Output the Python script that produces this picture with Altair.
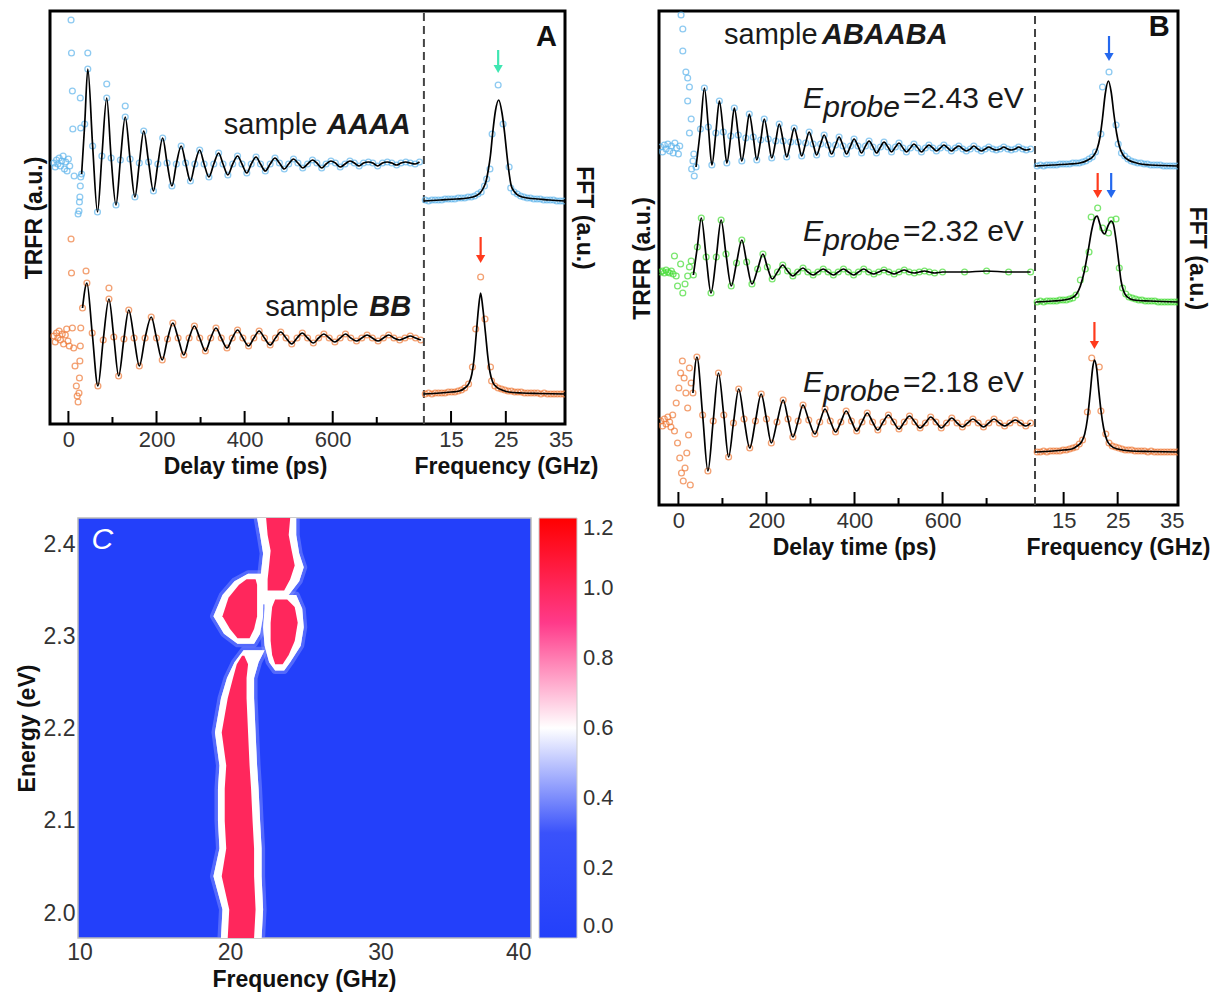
import altair as alt
import pandas as pd

FONT = "Liberation Sans"

# ---------------- shared tick lists ----------------
time_major = [0, 200, 400, 600]
time_minor = [100, 300, 500, 700]
fft_labels = [15, 25, 35]
fft_marks = [15, 25]

# ---------------- Panel A data (delay ps / GHz, signal in a.u.) ----------------
A_blue_signal = [(30,-10),(37,40),(44,95),(55,18),(66,-48),(76,8),(87,66),(97,6),(108,-41),(118,4),(129,47),(140,5),
    (151,-33),(161,1),(171,33),(182,2),(193,-27),(203,0),(214,26),(224,1),(235,-22),(245,0),(256,18),(266,1),(277,-17),
    (287,0),(298,14),(308,0),(319,-13),(330,0),(341,11),(351,0),(362,-11),(373,0),(384,8),(394,0),(405,-9),(415,0),
    (426,7),(436,0),(447,-7),(458,0),(469,6),(479,1),(490,-5),(500,0),(511,5),(521,1),(532,-4),(543,0),(554,4),(564,1),
    (575,-4),(585,0),(596,3),(606,1),(617,-3),(628,0),(639,3),(649,1),(660,-2),(670,1),(681,2),(691,1),(702,-2),(713,1),
    (724,2),(734,1),(745,-1),(755,1),(766,2),(776,1),(787,0),(797,2)]
A_blue_noise = [(-33,1),(-30,-3),(-27,4),(-24,0),(-21,6),(-18,-2),(-15,3),(-12,8),(-9,-5),(-6,2),(-3,-7),(0,5),(3,-2),
    (6,144),(7,111),(9,73),(10,35),(13,-12),(22,-50),(24,-47),(25,-38),(26,-33),(27,-22),(28,-13),(27,66),(28,36),
    (44,111),(87,80),(129,58)]
A_orange_signal = [(32,30),(42,55),(54,5),(67,-48),(79,-2),(92,39),(103,1),(114,-38),(126,-1),(137,28),(149,0),(161,-28),
    (174,0),(188,21),(200,0),(213,-22),(225,-1),(237,15),(249,0),(262,-17),(274,0),(286,12),(298,0),(311,-13),(323,0),
    (335,10),(347,0),(360,-10),(372,0),(384,8),(396,0),(409,-8),(421,0),(433,7),(445,0),(458,-7),(470,0),(482,6),(494,0),
    (507,-6),(519,0),(531,5),(543,0),(556,-5),(568,0),(580,4),(592,0),(605,-4),(617,0),(629,4),(641,0),(654,-3),(666,0),
    (678,3),(690,0),(703,-3),(715,0),(727,3),(739,0),(752,-2),(764,0),(776,2),(788,0),(800,-2)]
A_orange_noise = [(-33,2),(-30,-4),(-27,5),(-24,0),(-21,7),(-18,-2),(-14,4),(-11,-6),(-7,3),(-4,9),(-1,-3),(2,-8),
    (6,99),(7,65),(9,10),(12,-10),(15,-28),(18,-48),(20,-58),(22,-64),(24,-55),(25,-40),(26,-23),(27,-8),(28,10),
    (40,67),(92,50)]
A_blue_fft_fit = [(10,0),(13,1),(16,2),(18,3),(19.5,5),(20.3,8),(20.9,13),(21.4,20),(21.8,31),(22.2,46),(22.6,68),
    (23.1,90),(23.7,101),(24.3,88),(24.8,67),(25.2,46),(25.5,32),(26.0,15),(26.6,9),(27.5,5),(29,3),(31,2),(33,1),(35.8,0)]
A_blue_fft_pts = [(10.3,1),(10.9,0),(11.5,1),(12.1,1),(12.7,1),(13.3,1),(13.9,2),(14.5,2),(15.1,2),(15.7,2),(16.3,3),
    (16.9,3),(17.5,3),(18.1,4),(18.7,4),(19.3,5),(19.9,7),(20.5,9),(21.1,15),(21.5,22),(22.1,32),(22.5,67),(23.6,116),
    (24.5,77),(25.6,34),(25.9,13),(26.5,9),(27.1,7),(27.7,5),(28.3,4),(28.9,3),(29.5,3),(30.1,2),(30.7,2),(31.3,2),
    (31.9,1),(32.5,1),(33.1,1),(33.7,1),(34.3,0),(34.9,0),(35.5,0)]
A_orange_fft_fit = [(10,0),(13,1),(15,2),(16.5,3),(17.5,6),(18.3,11),(18.8,20),(19.2,35),(19.6,60),(20,85),(20.4,101),
    (20.8,86),(21.3,60),(21.7,38),(22.1,22),(22.6,12),(23.3,7),(24.3,4),(25.5,2),(28,1),(31,0.5),(35.8,0)]
A_orange_fft_pts = [(10.3,0),(10.9,1),(11.5,0),(12.1,1),(12.7,1),(13.3,1),(13.9,1),(14.5,2),(15.1,2),(15.7,2),(16.3,3),
    (16.9,4),(17.5,6),(18.2,10),(18.9,27),(19.5,65),(20.4,117),(21.2,75),(22.2,27),(22.4,13),(23.0,8),(23.6,6),(24.2,5),
    (24.8,4),(25.4,3),(26,3),(26.6,2),(27.2,2),(27.8,2),(28.4,1),(29,1),(29.6,1),(30.2,1),(30.8,1),(31.4,0),(32,1),
    (32.6,0),(33.2,0),(33.8,0),(34.4,0),(35,0),(35.6,0)]
A_time_offset = {"blue": 260, "orange": 86}
A_fft_offset = {"blue": 223, "orange": 30}
A_arrows = [("cyan", 23.6, 374, 351), ("red", 20.4, 187, 161)]

# ---------------- Panel B data ----------------
B_blue_signal = [(40,-18),(50,20),
    (59,61),(68,22),(76,-16),(85,16),(93,48),(102,17),(110,-14),(119,13),(127,41),(136,14),(144,-12),(153,11),
    (161,35),(170,12),(178,-11),(187,9),(195,30),(204,10),(212,-9),(221,8),(229,25),(238,8),(246,-8),(255,7),
    (263,21),(272,7),(280,-7),(289,6),(297,17),(306,5),(314,-6),(323,5),(331,14),(340,4),(348,-5),(357,4),
    (365,12),(374,3),(382,-5),(391,3),(399,10),(408,3),(416,-4),(425,3),(433,8),(442,2),(450,-4),(459,2),
    (467,7),(476,2),(484,-3),(493,2),(501,6),(510,1),(518,-3),(527,1),(535,5),(544,1),(552,-3),(561,1),
    (569,4),(578,1),(586,-2),(595,1),(603,4),(612,1),(620,-2),(629,1),(637,3),(646,0),(654,-2),(663,0),
    (671,3),(680,0),(688,-2),(697,0),(705,2),(714,0),(722,-1),(731,0),(739,2),(748,0),(756,-1),(765,0),
    (773,2),(782,0),(790,-1),(800,0)]
B_blue_noise = [(-40,2),(-36,-3),(-32,4),(-28,0),(-24,5),(-20,-2),(-16,3),(-12,-4),(-8,6),(-4,1),(0,-5),(3,3),(6,134),
    (10,120),(10,98),(17,77),(21,71),(25,62),(21,48),(29,30),(25,16),(33,-12),(36,-27),(30,-20),(35,-5)]
B_green_signal = [(34,-3),(43,25),(52,54),(63,15),(74,-21),(86,15),(97,52),(108,18),(120,-14),(132,9),(144,32),(155,10),
    (167,-12),(180,3),(192,18),(202,5),(213,-7),(225,0),(237,7),(248,1),(260,-4),(271,0),(283,4),(294,0),(306,-3),
    (317,0),(329,3),(340,0),(352,-3),(363,0),(375,3),(386,0),(398,-3),(409,0),(421,3),(432,0),(444,-2),(455,0),(467,2),
    (478,0),(490,-2),(501,0),(513,2),(524,0),(536,-1),(547,0),(559,1),(570,0),(582,-1),(600,0),(650,0),(700,1),(750,0),
    (800,0)]
B_green_noise = [(-40,0),(-36,1),(-32,-1),(-28,2),(-24,0),(-20,-1),(-16,1),(-12,-2),(-9,16),(-5,-4),(-2,-14),(5,8),
    (10,-21),(15,-12),(21,-4),(25,5),(29,11)]
B_orange_signal = [(33,30),(42,66),(55,8),(67,-48),(79,2),(91,50),(103,8),(114,-34),(125,0),(137,34),(149,4),(162,-25),
    (175,2),(188,29),(200,4),(211,-20),(224,1),(238,23),(249,4),(260,-14),(272,2),(283,18),(296,3),(310,-11),(321,1),
    (333,14),(345,2),(357,-9),(369,1),(381,12),(393,2),(405,-8),(417,1),(429,10),(441,1),(453,-7),(465,1),(477,8),
    (489,1),(501,-6),(513,1),(525,7),(537,1),(549,-5),(561,0),(573,6),(585,1),(597,-5),(609,0),(621,5),(633,0),(645,-4),
    (657,0),(669,4),(681,0),(693,-4),(705,0),(717,4),(729,0),(741,-3),(753,0),(765,3),(777,0),(789,-3),(800,0)]
B_orange_noise = [(-40,2),(-36,-3),(-32,4),(-28,-1),(-24,6),(-20,1),(-17,-4),(-13,8),(-9,-8),(-5,20),(-2,-20),(1,35),
    (3,-35),(5,50),(7,-50),(9,62),(11,-58),(13,45),(15,-45),(17,30),(19,-30),(21,15),(23,-12),(25,55),(27,-62),(29,40)]
B_blue_fft_fit = [(9.8,0),(13,1),(16,2),(18,3),(19.5,6),(20.5,10),(21.2,17),(21.7,28),(22.2,48),(22.7,72),(23.3,85),
    (23.8,74),(24.3,52),(24.8,33),(25.3,20),(26,11),(27,6),(28.5,3),(31,1),(36.2,0)]
B_blue_fft_pts = [(10.1,0),(10.7,1),(11.3,0),(11.9,1),(12.5,1),(13.1,1),(13.7,1),(14.3,2),(14.9,2),(15.5,2),(16.1,2),
    (16.7,3),(17.3,3),(17.9,3),(18.5,4),(19.1,5),(19.7,7),(20.3,9),(20.9,14),(21.9,32),(22.2,79),(23.4,94),(24.7,41),
    (25.1,22),(25.7,13),(26.3,10),(26.9,7),(27.5,5),(28.1,4),(28.7,3),(29.3,3),(29.9,2),(30.5,2),(31.1,1),(31.7,1),
    (32.3,1),(32.9,1),(33.5,0),(34.1,0),(34.7,0),(35.3,0),(35.9,0)]
B_green_fft_fit = [(9.8,0),(13,1),(15,2),(16.5,4),(17.4,8),(18.1,16),(18.8,30),(19.5,50),(20.2,72),(20.8,84),(21.2,86),
    (21.7,78),(22.2,70),(22.6,68),(23.2,76),(23.8,81),(24.2,78),(24.7,62),(25.2,40),(25.6,22),(26.1,11),(26.8,5),(28,2),
    (31,1),(36.2,0)]
B_green_fft_pts = [(10.1,0),(10.7,1),(11.3,0),(11.9,1),(12.5,1),(13.1,1),(13.7,1),(14.3,2),(14.9,2),(15.5,2),(16.1,3),
    (16.7,4),(17.3,7),(18.1,22),(19.0,33),(19.7,50),(20.1,85),(21.3,94),(22.2,74),(23.3,69),(23.8,82),(24.7,83),
    (25.3,34),(25.9,14),(26.5,8),(27.1,5),(27.7,4),(28.3,3),(28.9,2),(29.5,2),(30.1,1),(30.7,1),(31.3,1),(31.9,1),
    (32.5,0),(33.1,0),(33.7,0),(34.3,0),(34.9,0),(35.5,0),(36.1,0)]
B_orange_fft_fit = [(9.8,0),(13,1),(15,2),(16.5,3),(17.5,6),(18.3,10),(18.9,18),(19.4,33),(19.9,58),(20.4,85),(20.7,92),
    (21.1,84),(21.5,62),(21.9,42),(22.4,24),(23,12),(23.8,6),(25,3),(27.5,1),(31,0.5),(36.2,0)]
B_orange_fft_pts = [(10.1,0),(10.7,0),(11.3,1),(11.9,0),(12.5,1),(13.1,1),(13.7,1),(14.3,1),(14.9,2),(15.5,2),(16.1,3),
    (16.7,4),(17.3,5),(17.9,8),(18.5,12),(19.4,40),(20.2,94),(21.6,85),(21.9,41),(22.8,18),(23.4,9),(24,6),(24.6,5),
    (25.2,4),(25.8,3),(26.4,2),(27,2),(27.6,2),(28.2,1),(28.8,1),(29.4,1),(30,1),(30.6,0),(31.2,1),(31.8,0),(32.4,0),
    (33,0),(33.6,0),(34.2,0),(34.8,0),(35.4,0),(36,0)]
B_time_offset = {"blue": 356, "green": 233, "orange": 82}
B_fft_offset = {"blue": 339, "green": 203, "orange": 53}
B_arrows = [("blue", 23.4, 469, 444), ("red", 21.3, 332, 307), ("blue", 23.8, 332, 307), ("red", 20.7, 183, 156)]
B_energies = ["2.43", "2.32", "2.18"]

# ---------------- Panel C data (energy eV, ridge edges in GHz) ----------------
ridge_halo = {
    "low":   [(1.973,19.4,22.1),(2.004,19.5,22.2),(2.04,18.9,22.1),(2.07,19.3,22.1),(2.10,19.2,22.0),(2.135,19.2,21.9),
              (2.16,19.3,21.8),(2.196,19.0,21.7),(2.233,19.4,21.6),(2.255,19.8,21.6),(2.272,20.3,21.9),(2.285,20.9,22.3)],
    "left":  [(2.292,20.5,21.6),(2.303,19.6,22.0),(2.322,18.9,22.2),(2.345,19.5,22.2),(2.36,20.3,22.3),(2.368,21.2,22.4)],
    "right": [(2.263,23.0,23.6),(2.272,22.6,24.0),(2.29,22.3,24.7),(2.31,22.2,24.9),(2.33,22.3,24.8),(2.345,22.3,24.4)],
    "up":    [(2.335,22.0,23.2),(2.345,21.9,23.9),(2.36,22.0,24.6),(2.375,22.1,24.9),(2.39,22.2,24.6),(2.41,22.0,24.4),
              (2.4285,21.8,24.4)],
}
ridge_core = {
    "low":   [(1.973,19.85,21.6),(2.004,19.95,21.7),(2.04,19.45,21.6),(2.07,19.75,21.6),(2.10,19.65,21.5),
              (2.135,19.65,21.4),(2.16,19.75,21.3),(2.196,19.45,21.2),(2.233,19.85,21.1),(2.255,20.2,21.1),
              (2.27,20.45,21.2),(2.279,20.8,20.95)],
    "left":  [(2.298,20.5,21.3),(2.308,20.0,21.6),(2.322,19.5,21.8),(2.342,19.9,21.8),(2.356,20.6,21.8),(2.362,21.1,21.7)],
    "right": [(2.27,23.0,23.5),(2.28,22.8,23.9),(2.295,22.7,24.3),(2.315,22.7,24.5),(2.332,22.8,24.3),(2.34,23.0,23.8)],
    "up":    [(2.35,22.5,23.6),(2.362,22.5,24.0),(2.377,22.6,24.3),(2.393,22.7,24.1),(2.41,22.5,23.9),(2.4285,22.4,24.0)],
}
level_background, level_halo, level_core = 0.0, 0.6, 1.0
colorbar_ticks = [0.0, 0.2, 0.4, 0.6, 0.8, 1.0, 1.2]

# ---------------- styles ----------------
SERIES_DOMAIN = ["blue", "orange", "green"]
SERIES_RANGE = ["#5fb5ec", "#ef7a38", "#45dd35"]
ARROW_DOMAIN = ["cyan", "red", "blue"]
ARROW_RANGE = ["#3fe6b2", "#ff3a1c", "#2468ee"]
ONE = pd.DataFrame({"k": [0]})


def frame(pairs, series, offset, xcol):
    return pd.DataFrame({xcol: [p[0] for p in pairs], "y": [p[1] + offset for p in pairs], "series": series})


def arrows_frame(arrows):
    return pd.DataFrame({"kind": [a[0] for a in arrows], "f": [a[1] for a in arrows],
                         "top": [a[2] for a in arrows], "head": [a[3] + 4 for a in arrows]})


def panel(W, H, t_dom, f_dom, t_div, tpts, tfit, fpts, ffit, arrows, t_notes, f_notes, t_title_x, f_title_x, ytp):
    ysc = alt.Scale(domain=[0, H], nice=False, zero=False)
    tsc = alt.Scale(domain=t_dom, nice=False, zero=False)
    fsc = alt.Scale(domain=f_dom, nice=False, zero=False)
    t_axis = alt.Axis(orient="bottom", values=time_major, ticks=False, domain=False, grid=False, labelPadding=5,
                      title="Delay time (ps)", titleX=t_title_x, titlePadding=5)
    f_axis = alt.Axis(orient="bottom", values=fft_labels, ticks=False, domain=False, grid=False, labelPadding=5,
                      title="Frequency (GHz)", titleX=f_title_x, titlePadding=5)
    yl = alt.Axis(orient="left", labels=False, ticks=False, domain=False, grid=False, title="TRFR (a.u.)", titlePadding=ytp)
    yr = alt.Axis(orient="right", labels=False, ticks=False, domain=False, grid=False, title="FFT (a.u.)", titlePadding=6)

    def TX(field=None, datum=None):
        if datum is not None:
            return alt.X(datum=datum, type="quantitative", scale=tsc, axis=t_axis)
        return alt.X(field, type="quantitative", scale=tsc, axis=t_axis)

    def TY(field=None, datum=None):
        if datum is not None:
            return alt.Y(datum=datum, type="quantitative", scale=ysc, axis=yl)
        return alt.Y(field, type="quantitative", scale=ysc, axis=yl)

    def FX(field=None, datum=None):
        if datum is not None:
            return alt.X(datum=datum, type="quantitative", scale=fsc, axis=f_axis)
        return alt.X(field, type="quantitative", scale=fsc, axis=f_axis)

    def FY(field=None, datum=None):
        if datum is not None:
            return alt.Y(datum=datum, type="quantitative", scale=ysc, axis=yr)
        return alt.Y(field, type="quantitative", scale=ysc, axis=yr)

    col = alt.Color("series:N", scale=alt.Scale(domain=SERIES_DOMAIN, range=SERIES_RANGE), legend=None)

    t_layers = [
        alt.Chart(tpts).mark_point(shape="circle", filled=False, size=34, strokeWidth=1.3, clip=True)
        .encode(x=TX("t"), y=TY("y"), color=col),
        alt.Chart(tfit).mark_line(color="black", strokeWidth=1.7, interpolate="monotone", clip=True)
        .encode(x=TX("t"), y=TY("y"), detail="series:N"),
        alt.Chart(pd.DataFrame({"t": time_major})).mark_rule(color="black", strokeWidth=2)
        .encode(x=TX("t"), y=TY(datum=0), y2=alt.Y2(datum=13)),
        alt.Chart(pd.DataFrame({"t": time_minor})).mark_rule(color="black", strokeWidth=2)
        .encode(x=TX("t"), y=TY(datum=0), y2=alt.Y2(datum=7)),
        alt.Chart(ONE).mark_rule(color="#444444", strokeWidth=2, strokeDash=[8, 5])
        .encode(x=TX(datum=t_div), y=TY(datum=0), y2=alt.Y2(datum=H)),
    ]
    for (txt, tx, ty, align, size, style, weight) in t_notes:
        t_layers.append(alt.Chart(ONE).mark_text(text=txt, align=align, baseline="alphabetic", font=FONT, fontSize=size,
                                                 fontStyle=style, fontWeight=weight, color="#1a1a1a")
                        .encode(x=TX(datum=tx), y=TY(datum=ty)))

    adf = arrows_frame(arrows)
    f_layers = [
        alt.Chart(fpts).mark_point(shape="circle", filled=False, size=34, strokeWidth=1.3, clip=True)
        .encode(x=FX("f"), y=FY("y"), color=col),
        alt.Chart(ffit).mark_line(color="black", strokeWidth=1.7, interpolate="monotone", clip=True)
        .encode(x=FX("f"), y=FY("y"), detail="series:N"),
        alt.Chart(pd.DataFrame({"f": fft_marks})).mark_rule(color="black", strokeWidth=2)
        .encode(x=FX("f"), y=FY(datum=0), y2=alt.Y2(datum=13)),
        alt.Chart(adf).mark_rule(strokeWidth=2.2)
        .encode(x=FX("f"), y=FY("top"), y2=alt.Y2("head"),
                stroke=alt.Stroke("kind:N", scale=alt.Scale(domain=ARROW_DOMAIN, range=ARROW_RANGE), legend=None)),
        alt.Chart(adf).mark_point(shape="triangle-down", filled=True, size=85, opacity=1)
        .encode(x=FX("f"), y=FY("head"),
                fill=alt.Fill("kind:N", scale=alt.Scale(domain=ARROW_DOMAIN, range=ARROW_RANGE), legend=None)),
    ]
    for (txt, fx, fy) in f_notes:
        f_layers.append(alt.Chart(ONE).mark_text(text=txt, align="center", baseline="alphabetic", font=FONT,
                                                 fontSize=29, fontWeight="bold", color="#111111")
                        .encode(x=FX(datum=fx), y=FY(datum=fy)))

    return (alt.layer(alt.layer(*t_layers), alt.layer(*f_layers))
            .resolve_scale(x="independent", y="independent")
            .properties(width=W, height=H))


# ---------------- assemble Panel A ----------------
A_tpts = pd.concat([
    frame(A_blue_signal + A_blue_noise, "blue", A_time_offset["blue"], "t"),
    frame(A_orange_signal + A_orange_noise, "orange", A_time_offset["orange"], "t")])
A_tfit = pd.concat([
    frame(A_blue_signal, "blue", A_time_offset["blue"], "t"),
    frame(A_orange_signal, "orange", A_time_offset["orange"], "t")])
A_fpts = pd.concat([
    frame(A_blue_fft_pts, "blue", A_fft_offset["blue"], "f"),
    frame(A_orange_fft_pts, "orange", A_fft_offset["orange"], "f")])
A_ffit = pd.concat([
    frame(A_blue_fft_fit, "blue", A_fft_offset["blue"], "f"),
    frame(A_orange_fft_fit, "orange", A_fft_offset["orange"], "f")])
A_notes = [
    ("sample", 565, 290, "right", 29, "normal", "normal"),
    ("AAAA", 587, 290, "left", 29, "italic", "bold"),
    ("sample", 659, 108, "right", 29, "normal", "normal"),
    ("BB", 683, 108, "left", 29, "italic", "bold"),
]
panelA = panel(515, 413, [-41.8, 1127.3], [-58.2, 35.8], 807, A_tpts, A_tfit, A_fpts, A_ffit, A_arrows,
               A_notes, [("A", 32.4, 378)], 195, 456, 4)

# ---------------- assemble Panel B ----------------
B_tpts = pd.concat([
    frame(B_blue_signal + B_blue_noise, "blue", B_time_offset["blue"], "t"),
    frame(B_green_signal + B_green_noise, "green", B_time_offset["green"], "t"),
    frame(B_orange_signal + B_orange_noise, "orange", B_time_offset["orange"], "t")])
B_tfit = pd.concat([
    frame(B_blue_signal, "blue", B_time_offset["blue"], "t"),
    frame(B_green_signal, "green", B_time_offset["green"], "t"),
    frame(B_orange_signal, "orange", B_time_offset["orange"], "t")])
B_fpts = pd.concat([
    frame(B_blue_fft_pts, "blue", B_fft_offset["blue"], "f"),
    frame(B_green_fft_pts, "green", B_fft_offset["green"], "f"),
    frame(B_orange_fft_pts, "orange", B_fft_offset["orange"], "f")])
B_ffit = pd.concat([
    frame(B_blue_fft_fit, "blue", B_fft_offset["blue"], "f"),
    frame(B_green_fft_fit, "green", B_fft_offset["green"], "f"),
    frame(B_orange_fft_fit, "orange", B_fft_offset["orange"], "f")])
B_notes = [("sample", 316, 461, "right", 29, "normal", "normal"),
           ("ABAABA", 326, 461, "left", 29, "italic", "bold")]
for energy, base in zip(B_energies, [397, 264, 113]):
    B_notes += [("E", 283, base, "left", 30, "italic", "normal"),
                ("probe", 329, base - 9, "left", 30, "italic", "normal"),
                ("=" + energy + " eV", 510, base, "left", 30, "normal", "normal")]
panelB = panel(519, 494, [-44.1, 1134.8], [-59.9, 36.17], 810, B_tpts, B_tfit, B_fpts, B_ffit, B_arrows,
               B_notes, [("B", 32.7, 469)], 195, 459, 5)

# ---------------- assemble Panel C ----------------
def ridge_frame(bands, level):
    rows = []
    for name, pts in bands.items():
        for (e, lo, hi) in pts:
            rows.append({"E": e, "lo": lo, "hi": hi, "band": name, "level": level})
    return pd.DataFrame(rows)


halo_df = ridge_frame(ridge_halo, level_halo)
core_df = ridge_frame(ridge_core, level_core)
csc_x = alt.Scale(domain=[8.04, 40.0], nice=False, zero=False)
csc_y = alt.Scale(domain=[1.973, 2.4285], nice=False, zero=False)
cax_x = alt.Axis(values=[10, 20, 30, 40], ticks=False, domain=False, grid=False, labelPadding=3,
                 title="Frequency (GHz)", titlePadding=4, labelFontSize=23, titleX=254)
cax_y = alt.Axis(values=[2.0, 2.1, 2.2, 2.3, 2.4], format=".1f", ticks=False, domain=False, grid=False,
                 labelPadding=3, title="Energy (eV)", titlePadding=4, labelFontSize=23, offset=-28)
ccol = alt.Color("level:Q",
                 scale=alt.Scale(domain=[0, 0.3, 0.6, 0.9, 1.2],
                                 range=["#2340fa", "#3a52fb", "#ffffff", "#ff3a8a", "#ff0000"],
                                 interpolate="rgb", nice=False, zero=False),
                 legend=alt.Legend(title=None, orient="right", offset=8, gradientLength=420, gradientThickness=38,
                                   values=colorbar_ticks, format=".1f", labelFontSize=22, labelFont=FONT,
                                   labelColor="#333333", labelOffset=6, labelBaseline="middle",
                                   gradientStrokeColor="#cccccc", gradientStrokeWidth=1, direction="vertical",
                                   padding=0))


def CX(field=None, datum=None):
    if datum is not None:
        return alt.X(datum=datum, type="quantitative", scale=csc_x, axis=cax_x)
    return alt.X(field, type="quantitative", scale=csc_x, axis=cax_x)


def CY(field=None, datum=None):
    if datum is not None:
        return alt.Y(datum=datum, type="quantitative", scale=csc_y, axis=cax_y)
    return alt.Y(field, type="quantitative", scale=csc_y, axis=cax_y)


bg = alt.Chart(pd.DataFrame({"level": [level_background]})).mark_rect(stroke="#bbbbbb", strokeWidth=1.5).encode(
    x=CX(datum=9.9), x2=alt.X2(datum=40.0), y=CY(datum=1.973), y2=alt.Y2(datum=2.4285), color=ccol)
glow = alt.Chart(halo_df).mark_area(orient="horizontal", interpolate="linear", stroke="#8e9cff", strokeWidth=7,
                                    strokeOpacity=0.45, strokeJoin="round", clip=True).encode(
    y=CY("E"), x=CX("lo"), x2=alt.X2("hi"), detail="band:N", color=ccol)
halo = alt.Chart(halo_df).mark_area(orient="horizontal", interpolate="linear", clip=True).encode(
    y=CY("E"), x=CX("lo"), x2=alt.X2("hi"), detail="band:N", color=ccol)
core = alt.Chart(core_df).mark_area(orient="horizontal", interpolate="linear", clip=True).encode(
    y=CY("E"), x=CX("lo"), x2=alt.X2("hi"), detail="band:N", color=ccol)
letterC = alt.Chart(ONE).mark_text(text="C", align="left", baseline="alphabetic", font=FONT, fontSize=30,
                                   fontStyle="italic", color="white").encode(x=CX(datum=10.8), y=CY(datum=2.3945))

panelC = alt.layer(bg, glow, halo, core, letterC).properties(
    width=481, height=420, view=alt.ViewBackground(stroke="transparent"))

left_col = alt.vconcat(panelA, panelC, spacing=35)

chart = (alt.hconcat(left_col, panelB, spacing=13)
         .properties(padding={"left": 6, "top": 0, "right": 4, "bottom": 4})
         .configure_view(stroke="black", strokeWidth=3)
         .configure_axis(labelFont=FONT, titleFont=FONT, labelFontSize=22, titleFontSize=23, labelColor="#333333",
                         titleColor="#111111", titleFontWeight="bold"))

chart.save("out.html", embed_options={"renderer": "svg", "actions": False})
